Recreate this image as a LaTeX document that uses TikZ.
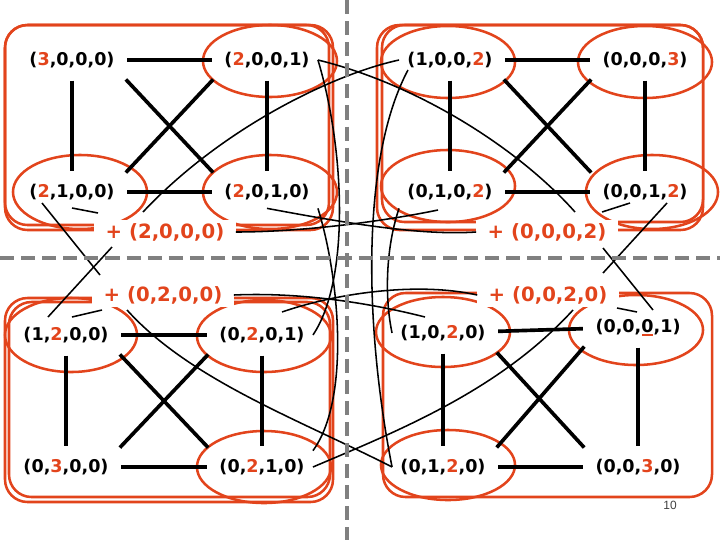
\documentclass[tikz,border=0pt]{standalone}
\usepackage{fontspec}
\setmainfont{DejaVu Sans}
\newfontfamily\numfont{Liberation Sans}
\usetikzlibrary{calc}
\definecolor{slidered}{RGB}{226,68,28}
\definecolor{divgray}{RGB}{128,128,128}
% the red digit of a tuple
\newcommand{\rd}[1]{\textcolor{slidered}{#1}}
\tikzset{
  tuple/.style={font=\fontsize{12.5}{15}\selectfont\bfseries, inner sep=2pt, outer sep=4pt},
  shiftlabel/.style={font=\fontsize{14}{17}\selectfont\bfseries, text=slidered, fill=white, inner xsep=8pt, inner ysep=2pt},
  bond/.style={line width=2.6pt, shorten <=3pt, shorten >=3pt},
  link/.style={line width=1.1pt},
  group/.style={draw=slidered, line width=1.8pt, rounded corners=16pt},
  ring/.style={draw=slidered, line width=1.8pt},
  divider/.style={draw=divgray, line width=2.8pt, dash pattern=on 10pt off 5pt},
}

\begin{document}
\begin{tikzpicture}[x=0.025cm, y=-0.025cm]
    \useasboundingbox (0,0) rectangle (720,540);

    % Red groups (drawn twice, as on the slide)
    \draw[group] (5,25) rectangle (333,230);
    \draw[group] (5,25) rectangle (329,225);
    \draw[group] (377,25) rectangle (703,230);
    \draw[group] (382,25) rectangle (703,222);
    \draw[group] (5,298) rectangle (333,502);
    \draw[group] (9,302) rectangle (330,497);
    \draw[group] (383,293) rectangle (712,497);

    % Red rings round the tuples
    \draw[ring] (270,61) ellipse [x radius=1.675cm, y radius=0.9cm];
    \draw[ring] (80,192) ellipse [x radius=1.675cm, y radius=0.925cm];
    \draw[ring] (270,192) ellipse [x radius=1.675cm, y radius=0.925cm];
    \draw[ring] (448,62) ellipse [x radius=1.675cm, y radius=0.9cm];
    \draw[ring] (645,62) ellipse [x radius=1.675cm, y radius=0.9cm];
    \draw[ring] (448,186) ellipse [x radius=1.675cm, y radius=0.9cm];
    \draw[ring] (652,192) ellipse [x radius=1.65cm, y radius=0.925cm];
    \draw[ring] (71,335) ellipse [x radius=1.65cm, y radius=0.925cm];
    \draw[ring] (264,336) ellipse [x radius=1.675cm, y radius=0.9cm];
    \draw[ring] (264,467) ellipse [x radius=1.675cm, y radius=0.9cm];
    \draw[ring] (443,332) ellipse [x radius=1.675cm, y radius=0.875cm];
    \draw[ring] (636,330) ellipse [x radius=1.675cm, y radius=0.875cm];
    \draw[ring] (448,465) ellipse [x radius=1.675cm, y radius=0.875cm];

    % Shift labels
    \node[shiftlabel] (p2000) at (165,232) {+ (2,0,0,0)};
    \node[shiftlabel] (p0002) at (547,232) {+ (0,0,0,2)};
    \node[shiftlabel] (p0200) at (163,295) {+ (0,2,0,0)};
    \node[shiftlabel] (p0020) at (548,295) {+ (0,0,2,0)};

    % Top left block
    \begin{scope}
        \node[tuple] (t3000) at (72,60) {(\rd{3},0,0,0)};
        \node[tuple] (t2001) at (267,60) {(\rd{2},0,0,1)};
        \node[tuple] (t2100) at (72,192) {(\rd{2},1,0,0)};
        \node[tuple] (t2010) at (267,192) {(\rd{2},0,1,0)};
        \draw[bond] (t3000) -- (t2001);
        \draw[bond] (t2100) -- (t2010);
        \draw[bond] (t3000) -- (t2100);
        \draw[bond] (t2001) -- (t2010);
        \draw[bond] (t3000.south east) -- (t2010.north west);
        \draw[bond] (t2100.north east) -- (t2001.south west);
    \end{scope}

    % Top right block
    \begin{scope}
        \node[tuple] (t1002) at (450,60) {(1,0,0,\rd{2})};
        \node[tuple] (t0003) at (645,60) {(0,0,0,\rd{3})};
        \node[tuple] (t0102) at (450,192) {(0,1,0,\rd{2})};
        \node[tuple] (t0012) at (645,192) {(0,0,1,\rd{2})};
        \draw[bond] (t1002) -- (t0003);
        \draw[bond] (t0102) -- (t0012);
        \draw[bond] (t1002) -- (t0102);
        \draw[bond] (t0003) -- (t0012);
        \draw[bond] (t1002.south east) -- (t0012.north west);
        \draw[bond] (t0102.north east) -- (t0003.south west);
    \end{scope}

    % Bottom left block
    \begin{scope}
        \node[tuple] (t1200) at (66,335) {(1,\rd{2},0,0)};
        \node[tuple] (t0201) at (262,335) {(0,\rd{2},0,1)};
        \node[tuple] (t0300) at (66,467) {(0,\rd{3},0,0)};
        \node[tuple] (t0210) at (262,467) {(0,\rd{2},1,0)};
        \draw[bond] (t1200) -- (t0201);
        \draw[bond] (t0300) -- (t0210);
        \draw[bond] (t1200) -- (t0300);
        \draw[bond] (t0201) -- (t0210);
        \draw[bond] (t1200.south east) -- (t0210.north west);
        \draw[bond] (t0300.north east) -- (t0201.south west);
    \end{scope}

    % Bottom right block
    \begin{scope}
        \node[tuple] (t1020) at (443,333) {(1,0,\rd{2},0)};
        \node[tuple] (t0021) at (638,327) {(0,0,0,1)};
        \node[tuple] (t0120) at (443,467) {(0,1,\rd{2},0)};
        \node[tuple] (t0030) at (638,467) {(0,0,\rd{3},0)};
        \draw[bond] (t1020) -- (t0021);
        \draw[bond] (t0120) -- (t0030);
        \draw[bond] (t1020) -- (t0120);
        \draw[bond] (t0021) -- (t0030);
        \draw[bond] (t1020.south east) -- (t0030.north west);
        \draw[bond] (t0120.north east) -- (t0021.south west);
    \end{scope}

    % Loose ends of the thin links
    \coordinate (fa) at (575,212);
    \coordinate (fb) at (143,212);
    \coordinate (fc) at (408,70);
    \coordinate (fd) at (127,310);
    \coordinate (fe) at (573,310);
    \coordinate (fh) at (438,210);
    \coordinate (fm) at (282,312);
    \coordinate (fn) at (425,317);
    \coordinate (x1a) at (42,203);
    \coordinate (x1b) at (100,275);
    \coordinate (x2a) at (112,247);
    \coordinate (x2b) at (48,317);
    \coordinate (y1a) at (667,203);
    \coordinate (y1b) at (603,273);
    \coordinate (y2a) at (603,248);
    \coordinate (y2b) at (653,310);
    \coordinate (s1a) at (72,208);
    \coordinate (s1b) at (98,213);
    \coordinate (s2a) at (602,212);
    \coordinate (s2b) at (630,203);
    \coordinate (s3a) at (72,317);
    \coordinate (s3b) at (102,310);
    \coordinate (s4a) at (617,308);
    \coordinate (s4b) at (637,312);
    \coordinate (u4a) at (642,335);
    \coordinate (u4b) at (653,335);

    % Thin links between the blocks
    \draw[link] (t2001.east) .. controls (420,85) and (520,150) .. (fa);
    \draw[link] (t1002.west) .. controls (330,75) and (220,130) .. (fb);
    \draw[link] (t2001.east) .. controls (345,150) and (350,280) .. (t0201.east);
    \draw[link] (t2010.south east) .. controls (340,280) and (350,400) .. (t0210.north east);
    \draw[link] (fc) .. controls (360,160) and (365,330) .. (t0120.west);
    \draw[link] (t0102.south west) .. controls (385,250) and (385,300) .. (t1020.west);
    \draw[link] (t2010.south) .. controls (340,222) and (420,236) .. (p0002.west);
    \draw[link] (p2000.east) .. controls (300,232) and (380,222) .. (fh);
    \draw[link] (fm) .. controls (340,292) and (420,282) .. (p0020.west);
    \draw[link] (p0200.east) .. controls (300,292) and (370,303) .. (fn);
    \draw[link] (fd) .. controls (190,380) and (300,420) .. (t0120.west);
    \draw[link] (t0210.east) .. controls (400,430) and (500,390) .. (fe);
    \draw[link] (x1a) -- (x1b);
    \draw[link] (x2a) -- (x2b);
    \draw[link] (y1a) -- (y1b);
    \draw[link] (y2a) -- (y2b);
    \draw[link] (s1a) -- (s1b);
    \draw[link] (s2a) -- (s2b);
    \draw[link] (s3a) -- (s3b);
    \draw[link] (s4a) -- (s4b);
    % red trace under the hidden digit
    \draw[slidered, line width=1.4pt] (u4a) -- (u4b);

    % Dividers
    \draw[divider] (347,0) -- (347,540);
    \draw[divider] (0,258) -- (720,258);

    \node[font=\fontsize{8.5}{10}\selectfont\numfont, text=black!75] (pnum) at (670,505) {10};
\end{tikzpicture}
\end{document}
